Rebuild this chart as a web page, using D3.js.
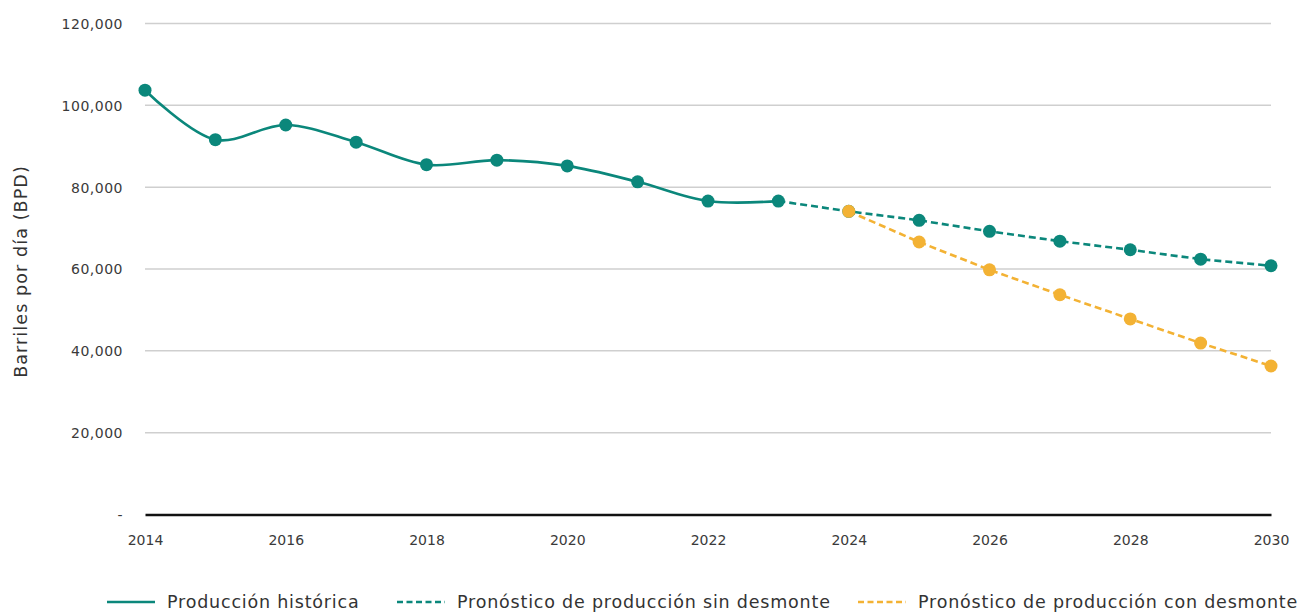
<!DOCTYPE html>
<html>
<head>
<meta charset="utf-8">
<script src="https://cdn.jsdelivr.net/npm/d3@7"></script>
<style>
  html, body { margin: 0; padding: 0; background: #fff; }
  svg { display: block; font-family: "DejaVu Sans", "Noto Sans", sans-serif; }
</style>
</head>
<body>
<svg id="chart" width="1299" height="615"></svg>
<script>
// Production history and forecasts (barrels per day)
const histYears = [2014, 2015, 2016, 2017, 2018, 2019, 2020, 2021, 2022, 2023];
const histValues = [103700, 91600, 95200, 91000, 85500, 86600, 85200, 81300, 76600, 76600];

const sinYears = [2023, 2024, 2025, 2026, 2027, 2028, 2029, 2030];
const sinValues = [76600, 74100, 71900, 69200, 66800, 64700, 62400, 60800];

const conYears = [2024, 2025, 2026, 2027, 2028, 2029, 2030];
const conValues = [74100, 66600, 59800, 53700, 47800, 41900, 36300];

const yTicks = [0, 20000, 40000, 60000, 80000, 100000, 120000];
const xTicks = [2014, 2016, 2018, 2020, 2022, 2024, 2026, 2028, 2030];

const legendLabels = [
  "Producción histórica",
  "Pronóstico de producción sin desmonte",
  "Pronóstico de producción con desmonte"
];

const TEAL = "#0b877b";
const ORANGE = "#f3b234";

const svg = d3.select("#chart");

const x = d3.scaleLinear().domain([2014, 2030]).range([145, 1271]);
const y = d3.scaleLinear().domain([0, 120000]).range([514.5, 23.5]);

// Horizontal gridlines
svg.append("g")
  .selectAll("line")
  .data(yTicks.filter(d => d > 0))
  .join("line")
  .attr("x1", x(2014)).attr("x2", x(2030))
  .attr("y1", d => y(d)).attr("y2", d => y(d))
  .attr("stroke", "#cfcfcf").attr("stroke-width", 1.5);

// Y axis labels
const yAxis = d3.axisLeft(y)
  .tickValues(yTicks)
  .tickSize(0)
  .tickPadding(0)
  .tickFormat(d => d === 0 ? "-" : d3.format(",")(d));
const gy = svg.append("g").attr("transform", "translate(123,0)").call(yAxis);
gy.select(".domain").remove();
gy.selectAll("text")
  .attr("fill", "#3a3a3a")
  .attr("font-family", "DejaVu Sans")
  .attr("font-size", 14)
  .attr("letter-spacing", 0.5)
  .attr("dy", "0.35em");

// X axis baseline and labels
const xAxis = d3.axisBottom(x)
  .tickValues(xTicks)
  .tickSize(0)
  .tickPadding(0)
  .tickFormat(d3.format("d"));
const gx = svg.append("g").attr("transform", `translate(0,${y(0)})`).call(xAxis);
gx.select(".domain").attr("stroke", "#111").attr("stroke-width", 2.5);
gx.selectAll("text")
  .attr("fill", "#3a3a3a")
  .attr("font-family", "DejaVu Sans")
  .attr("font-size", 14)
  .attr("y", 30)
  .attr("dy", "0");

// Y axis title
svg.append("text")
  .attr("transform", "translate(27,271.5) rotate(-90)")
  .attr("text-anchor", "middle")
  .attr("fill", "#333")
  .attr("font-size", 17.5)
  .attr("letter-spacing", 1.1)
  .text("Barriles por día (BPD)");

// Series as point lists
const hist = histYears.map((yr, i) => ({ x: yr, y: histValues[i] }));
const sin = sinYears.map((yr, i) => ({ x: yr, y: sinValues[i] }));
const con = conYears.map((yr, i) => ({ x: yr, y: conValues[i] }));

const smooth = d3.line().x(d => x(d.x)).y(d => y(d.y)).curve(d3.curveCatmullRom.alpha(0.5));
const straight = d3.line().x(d => x(d.x)).y(d => y(d.y));

svg.append("path")
  .attr("d", straight(sin))
  .attr("fill", "none")
  .attr("stroke", TEAL)
  .attr("stroke-width", 2.6)
  .attr("stroke-dasharray", "7,4");

svg.append("path")
  .attr("d", straight(con))
  .attr("fill", "none")
  .attr("stroke", ORANGE)
  .attr("stroke-width", 2.6)
  .attr("stroke-dasharray", "7,4");

svg.append("path")
  .attr("d", smooth(hist))
  .attr("fill", "none")
  .attr("stroke", TEAL)
  .attr("stroke-width", 2.6);

// Markers
function dots(data, color) {
  svg.append("g")
    .selectAll("circle")
    .data(data)
    .join("circle")
    .attr("cx", d => x(d.x))
    .attr("cy", d => y(d.y))
    .attr("r", 6.5)
    .attr("fill", color);
}
dots(hist, TEAL);
dots(sin.slice(1), TEAL);
dots(con, ORANGE);

// Legend
const legend = [
  { x0: 107, label: legendLabels[0], color: TEAL, dash: null },
  { x0: 397, label: legendLabels[1], color: TEAL, dash: "6,3.5" },
  { x0: 858, label: legendLabels[2], color: ORANGE, dash: "6,3.5" }
];
const lg = svg.append("g").selectAll("g").data(legend).join("g");
lg.append("line")
  .attr("x1", d => d.x0).attr("x2", d => d.x0 + 48)
  .attr("y1", 602).attr("y2", 602)
  .attr("stroke", d => d.color)
  .attr("stroke-width", 2.6)
  .attr("stroke-dasharray", d => d.dash);
lg.append("text")
  .attr("x", d => d.x0 + 60)
  .attr("y", 602)
  .attr("dy", "0.35em")
  .attr("fill", "#333")
  .attr("font-size", 17.5)
  .attr("letter-spacing", 0.8)
  .text(d => d.label);
</script>
</body>
</html>
